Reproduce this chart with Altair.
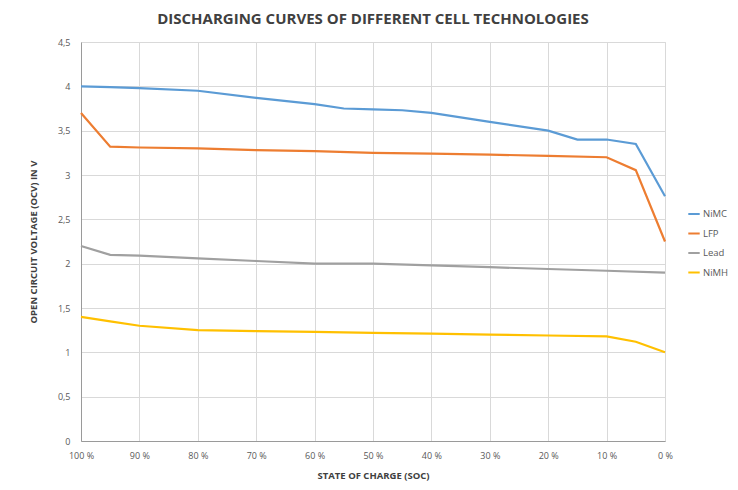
import altair as alt
import pandas as pd

series_order = ["NiMC", "LFP", "Lead", "NiMH"]
colors = ["#5B9BD5", "#ED7D31", "#A0A0A0", "#FFC000"]

nimc_soc = [100, 95, 90, 80, 70, 60, 55, 50, 45, 40, 30, 20, 15, 10, 5, 0]
nimc_v = [4.00, 3.99, 3.98, 3.95, 3.87, 3.80, 3.75, 3.74, 3.73, 3.70, 3.60, 3.50, 3.40, 3.40, 3.35, 2.76]

lfp_soc = [100, 95, 90, 80, 70, 60, 50, 40, 30, 20, 10, 5, 0]
lfp_v = [3.70, 3.32, 3.31, 3.30, 3.28, 3.27, 3.25, 3.24, 3.23, 3.215, 3.20, 3.055, 2.25]

lead_soc = [100, 95, 90, 80, 70, 60, 50, 40, 30, 20, 10, 0]
lead_v = [2.20, 2.10, 2.09, 2.06, 2.03, 2.00, 2.00, 1.98, 1.96, 1.94, 1.92, 1.90]

nimh_soc = [100, 95, 90, 80, 70, 60, 50, 40, 30, 20, 10, 5, 0]
nimh_v = [1.40, 1.35, 1.30, 1.25, 1.24, 1.23, 1.22, 1.21, 1.20, 1.19, 1.18, 1.12, 1.00]

rows = []
for name, socs, vs in [("NiMC", nimc_soc, nimc_v), ("LFP", lfp_soc, lfp_v),
                       ("Lead", lead_soc, lead_v), ("NiMH", nimh_soc, nimh_v)]:
    for i, (s, v) in enumerate(zip(socs, vs)):
        rows.append({"series": name, "soc": s, "v": v, "order": i})
df = pd.DataFrame(rows)

x_ticks = [100, 90, 80, 70, 60, 50, 40, 30, 20, 10, 0]
y_ticks = [0, 0.5, 1, 1.5, 2, 2.5, 3, 3.5, 4, 4.5]

chart = alt.Chart(df).mark_line(strokeWidth=2.2).encode(
    x=alt.X("soc:Q",
            scale=alt.Scale(domain=[100, 0], nice=False, zero=False),
            axis=alt.Axis(values=x_ticks, labelExpr="datum.value + ' %'",
                          title="STATE OF CHARGE (SOC)", titleFontSize=9.5,
                          titleFontWeight="bold", titleColor="#404040",
                          titlePadding=10, labelPadding=10, labelFontSize=9,
                          labelColor="#595959", ticks=False, domainColor="#9a9a9a",
                          gridColor="#d9d9d9", labelFlush=False)),
    y=alt.Y("v:Q",
            scale=alt.Scale(domain=[0, 4.5], nice=False),
            axis=alt.Axis(values=y_ticks, labelExpr="replace(format(datum.value, ''), '.', ',')",
                          title="OPEN CIRCUIT VOLTAGE (OCV) IN V", titleFontSize=9.5,
                          titleFontWeight="bold", titleColor="#404040",
                          titlePadding=19, labelPadding=11, labelFontSize=9,
                          labelColor="#595959", ticks=False, domainColor="#9a9a9a",
                          gridColor="#d9d9d9")),
    color=alt.Color("series:N",
                    scale=alt.Scale(domain=series_order, range=colors),
                    legend=alt.Legend(title=None, orient="none", legendX=606, legendY=165,
                                      symbolType="stroke", symbolStrokeWidth=2,
                                      symbolSize=130, labelFontSize=9.5, labelOffset=2,
                                      labelColor="#595959", rowPadding=7.5)),
    order="order:Q",
).properties(
    width=584, height=399,
    title=alt.Title("DISCHARGING CURVES OF DIFFERENT CELL TECHNOLOGIES",
                    fontSize=15, fontWeight="bold", color="#404040", offset=11,
                    font="Open Sans"),
    autosize=alt.AutoSizeParams(type="none"),
    padding={"left": 73, "top": 34, "right": 65, "bottom": 40},
).configure_view(
    stroke="#9a9a9a", strokeWidth=1
).configure(
    font="Open Sans", background="white"
)

chart.save("out.html", embed_options={"renderer": "svg", "actions": False})
